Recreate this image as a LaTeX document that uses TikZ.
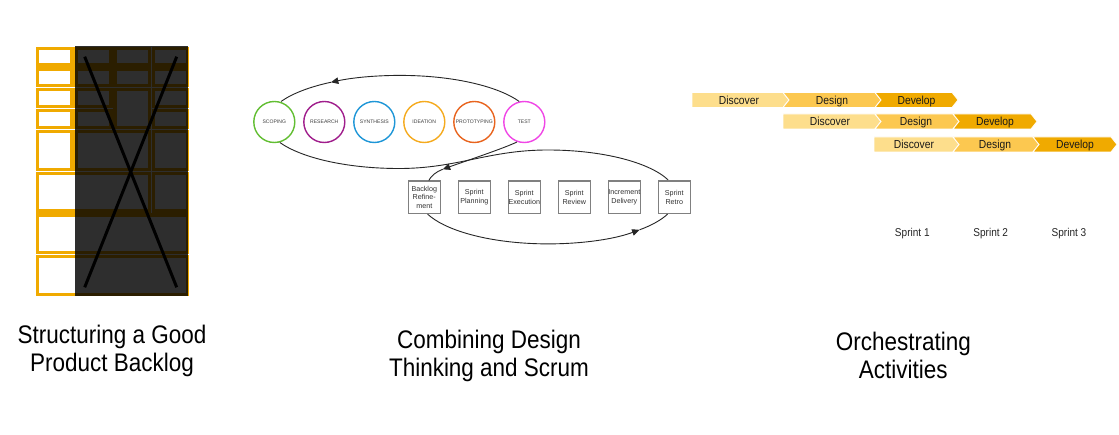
\documentclass[tikz,border=0pt]{standalone}
\usepackage{fontspec}
\setmainfont{Liberation Sans}
\newfontfamily\narrowfont[FakeStretch=0.885]{Liberation Sans}
\usetikzlibrary{arrows.meta}
\definecolor{ybox}{RGB}{240,170,0}
\definecolor{cdisc}{RGB}{253,222,140}
\definecolor{cdes}{RGB}{252,200,80}
\definecolor{cdev}{RGB}{240,170,0}
\definecolor{cscope}{RGB}{98,190,50}
\definecolor{cres}{RGB}{160,30,140}
\definecolor{csyn}{RGB}{30,150,215}
\definecolor{cide}{RGB}{245,170,30}
\definecolor{cproto}{RGB}{232,100,30}
\definecolor{ctest}{RGB}{240,70,230}
\newcommand\bcellbox[4]{\draw[bcell] ({#1+2.05},{-(#2+2.05)}) rectangle ({#3-2.05},{-(#4-2.05)});}
\newcommand\chevseg[6]{\draw[segline, fill=#5] (#1,-#3) -- (#2,-#3) -- ({#2+6},{-(#3+#4)/2}) -- (#2,-#4) -- (#1,-#4) -- ({#1+#6},{-(#3+#4)/2}) -- cycle;}
\begin{document}
\begin{tikzpicture}[x=1bp,y=1bp,
  bcell/.style={draw=ybox, line width=3.3bp, fill=white},
  dtc/.style={circle, draw, minimum size=41bp, inner sep=0pt, line width=1.4bp, font=\fontsize{5.1}{6}\selectfont, text=black!75},
  scb/.style={draw=black!50, line width=1.1bp, minimum size=32.5bp, inner sep=0pt, align=center, font=\fontsize{7.2}{8.5}\selectfont, text=black!80},
  conn/.style={draw=black!85, line width=0.9bp},
  arrowend/.style={-{Triangle[length=7.5bp,width=6.5bp]}},
  ttl/.style={anchor=base, inner sep=0pt, font=\narrowfont\fontsize{25.5}{30}\selectfont},
  chevtext/.style={anchor=base, inner sep=0pt, font=\narrowfont\fontsize{11.7}{14}\selectfont, text=black!90},
  sprintlbl/.style={anchor=base, inner sep=0pt, font=\narrowfont\fontsize{11.4}{14}\selectfont, text=black!85},
  segline/.style={draw=white, line width=0.8bp}
]
\fill[white] (0,0) rectangle (1119,-435);
\useasboundingbox (0,0) rectangle (1119,-435);

% ---------- left panel: backlog grid ----------
\bcellbox{35.6}{46.3}{74}{67.0}
\bcellbox{74}{46.3}{113}{67.0}
\bcellbox{113}{46.3}{151.6}{67.0}
\bcellbox{151.6}{46.3}{189.8}{67.0}
\bcellbox{35.6}{67.0}{74}{87.8}
\bcellbox{74}{67.0}{113}{87.8}
\bcellbox{113}{67.0}{151.6}{87.8}
\bcellbox{151.6}{67.0}{189.8}{87.8}
\bcellbox{35.6}{87.8}{74}{108.7}
\bcellbox{74}{87.8}{113}{108.7}
\bcellbox{113}{87.8}{151.6}{129.6}
\bcellbox{151.6}{87.8}{189.8}{108.7}
\bcellbox{35.6}{108.7}{74}{129.6}
\bcellbox{74}{108.7}{113}{129.6}
\bcellbox{151.6}{108.7}{189.8}{129.6}
\bcellbox{35.6}{129.6}{74}{171.3}
\bcellbox{74}{129.6}{151.6}{171.3}
\bcellbox{151.6}{129.6}{189.8}{171.3}
\bcellbox{35.6}{171.3}{151.6}{213.0}
\bcellbox{151.6}{171.3}{189.8}{213.0}
\bcellbox{35.6}{213.0}{189.8}{254.7}
\bcellbox{35.6}{254.7}{189.8}{296.4}
\fill[black, opacity=0.82] (75,-46.5) rectangle (188.3,-296.4);
\draw[line width=3bp] (84.7,-56.7) -- (176.7,-287.3);
\draw[line width=3bp] (176.7,-56.7) -- (84.7,-287.3);

\node[ttl] (t1a) at (112,-343.3) {Structuring a Good};
\node[ttl] (t1b) at (112,-372) {Product Backlog};

% ---------- middle panel ----------
\node[dtc, draw=cscope] (scoping) at (274.3,-122) {SCOPING};
\node[dtc, draw=cres] (research) at (324.3,-122) {RESEARCH};
\node[dtc, draw=csyn] (synthesis) at (374.3,-122) {SYNTHESIS};
\node[dtc, draw=cide] (ideation) at (424.3,-122) {IDEATION};
\node[dtc, draw=cproto] (proto) at (474.3,-122) {PROTOTYPING};
\node[dtc, draw=ctest] (test) at (524.3,-122) {TEST};

\node[scb] (backlog) at (424.3,-197.3) {Backlog\\Refine-\\ment};
\node[scb] (planning) at (474.3,-197.3) {Sprint\\Planning};
\node[scb] (execution) at (524.3,-197.3) {Sprint\\Execution};
\node[scb] (review) at (574.3,-197.3) {Sprint\\Review};
\node[scb] (delivery) at (624.3,-197.3) {Increment\\Delivery};
\node[scb] (retro) at (674.3,-197.3) {Sprint\\Retro};

% design thinking loop, top arc (TEST -> SCOPING)
\draw[conn, arrowend] (test.104) arc[start angle=26.5, end angle=121.4, x radius=133bp, y radius=47bp] coordinate (m1);
\draw[conn] (m1) arc[start angle=121.4, end angle=153.5, x radius=133bp, y radius=47bp];
% long curve SCOPING bottom -> Sprint Retro top
\draw[conn] (scoping.-75) arc[start angle=206.5, end angle=270, x radius=133bp, y radius=47bp]
  .. controls (458,-168.5) and (488,-150) .. (548,-150)
  arc[start angle=90, end angle=21.5, x radius=129bp, y radius=47bp];
% TEST -> Backlog Refinement
\draw[conn, arrowend] (test.-110) .. controls (505,-148) and (460,-163) .. (442.7,-169.3) coordinate (m3);
\draw[conn] (m3) .. controls (436,-171.8) and (431,-176) .. (backlog.75);
% scrum loop, bottom arc (Backlog -> Retro)
\draw[conn, arrowend] (backlog.-79) arc[start angle=201.5, end angle=315.5, x radius=129bp, y radius=47bp] coordinate (m2);
\draw[conn] (m2) arc[start angle=315.5, end angle=338.5, x radius=129bp, y radius=47bp];

\node[ttl] (t2a) at (489,-349) {Combining Design};
\node[ttl] (t2b) at (489,-376.3) {Thinking and Scrum};

% ---------- right panel ----------
\chevseg{692}{783}{92.5}{107.5}{cdisc}{0}
\chevseg{783}{875}{92.5}{107.5}{cdes}{6}
\chevseg{875}{952}{92.5}{107.5}{cdev}{6}
\chevseg{783}{875}{114}{129}{cdisc}{0}
\chevseg{875}{953}{114}{129}{cdes}{6}
\chevseg{953}{1031}{114}{129}{cdev}{6}
\chevseg{874}{953}{137}{152}{cdisc}{0}
\chevseg{953}{1033}{137}{152}{cdes}{6}
\chevseg{1033}{1111}{137}{152}{cdev}{6}

\node[chevtext] (r1a) at (739,-104.2) {Discover};
\node[chevtext] (r1b) at (832,-104.2) {Design};
\node[chevtext] (r1c) at (916.5,-104.2) {Develop};
\node[chevtext] (r2a) at (830,-125.7) {Discover};
\node[chevtext] (r2b) at (916,-125.7) {Design};
\node[chevtext] (r2c) at (995,-125.7) {Develop};
\node[chevtext] (r3a) at (914,-148.7) {Discover};
\node[chevtext] (r3b) at (995,-148.7) {Design};
\node[chevtext] (r3c) at (1075,-148.7) {Develop};

\node[sprintlbl] (s1) at (912.3,-236.5) {Sprint 1};
\node[sprintlbl] (s2) at (990.7,-236.5) {Sprint 2};
\node[sprintlbl] (s3) at (1069,-236.5) {Sprint 3};

\node[ttl] (t3a) at (903.3,-351) {Orchestrating};
\node[ttl] (t3b) at (903.3,-378.3) {Activities};
\end{tikzpicture}
\end{document}
